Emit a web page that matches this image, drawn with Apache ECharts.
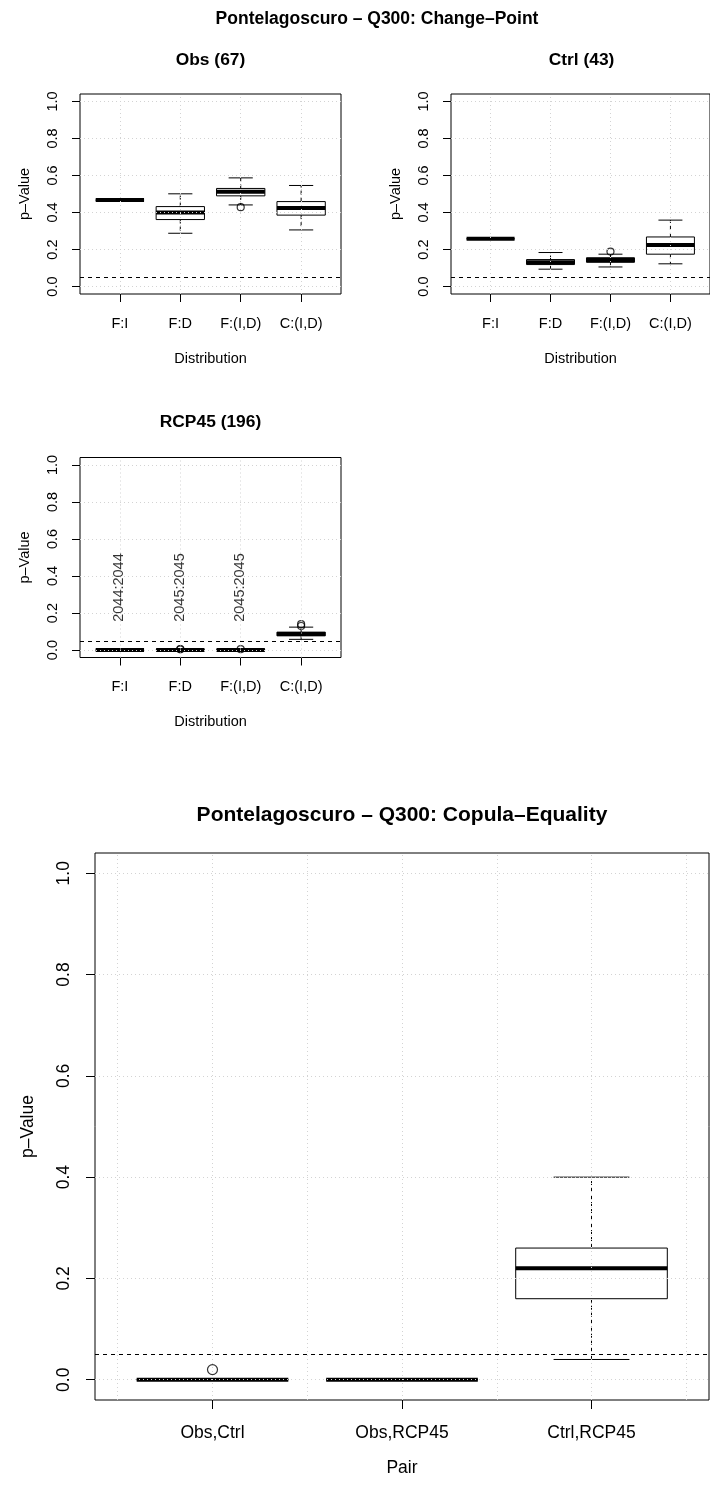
<!DOCTYPE html>
<html><head><meta charset="utf-8">
<script src="https://cdn.jsdelivr.net/npm/echarts@6/dist/echarts.min.js"></script>
<style>html,body{margin:0;padding:0;background:#fff}#c{width:710px;height:1485px}</style>
</head><body><div id="c"></div>
<script>
// ---------- data ----------
const distCats = ['F:I', 'F:D', 'F:(I,D)', 'C:(I,D)'];
const pairCats = ['Obs,Ctrl', 'Obs,RCP45', 'Ctrl,RCP45'];
const yTicks = [0, 0.2, 0.4, 0.6, 0.8, 1.0];
const alphaLevel = 0.05;
// each box: [lower whisker, Q1, median, Q3, upper whisker]
const obsBoxes = [
  [0.467, 0.467, 0.467, 0.467, 0.467],
  [0.288, 0.362, 0.400, 0.432, 0.501],
  [0.441, 0.490, 0.512, 0.530, 0.587],
  [0.306, 0.386, 0.425, 0.459, 0.546]
];
const obsOutliers = [[3, 0.429]];
const ctrlBoxes = [
  [0.258, 0.258, 0.258, 0.258, 0.258],
  [0.094, 0.119, 0.132, 0.146, 0.184],
  [0.106, 0.131, 0.144, 0.156, 0.175],
  [0.123, 0.175, 0.225, 0.268, 0.359]
];
const ctrlOutliers = [[3, 0.189]];
const rcpBoxes = [
  [0.000, 0.000, 0.000, 0.000, 0.000],
  [0.000, 0.000, 0.000, 0.002, 0.003],
  [0.000, 0.000, 0.000, 0.002, 0.003],
  [0.058, 0.077, 0.087, 0.097, 0.124]
];
const rcpOutliers = [[2, 0.004], [2, 0.006], [3, 0.005], [4, 0.130], [4, 0.140]];
const rcpChangeYears = [[1, '2044:2044'], [2, '2045:2045'], [3, '2045:2045']];
const rcpYearsY = 0.15;
const pairBoxes = [
  [0.000, 0.000, 0.000, 0.000, 0.000],
  [0.000, 0.000, 0.000, 0.000, 0.000],
  [0.040, 0.160, 0.220, 0.260, 0.400]
];
const pairOutliers = [[1, 0.02]];

// ---------- layout / style ----------
const FONT = "'Liberation Sans', Arial, Helvetica, sans-serif";
const panels = [
  { grid: { left: 80, top: 94, width: 261, height: 200 }, cats: distCats, boxes: obsBoxes, outliers: obsOutliers,
    xMin: 0.34, xMax: 4.66, xGrid: [1, 2, 3, 4], fs: 14.5, lblMargin: 22, nameGap: 57, yLblMargin: 20, yNameGap: 48, tick: 8, medW: 4, sym: 7, xName: 'Distribution' },
  { grid: { left: 451, top: 94, width: 261, height: 200 }, cats: distCats, boxes: ctrlBoxes, outliers: ctrlOutliers,
    xMin: 0.34, xMax: 4.66, xGrid: [1, 2, 3, 4], fs: 14.5, lblMargin: 22, nameGap: 57, yLblMargin: 20, yNameGap: 48, tick: 8, medW: 4, sym: 7, xName: 'Distribution' },
  { grid: { left: 80, top: 457.5, width: 261, height: 200 }, cats: distCats, boxes: rcpBoxes, outliers: rcpOutliers,
    xMin: 0.34, xMax: 4.66, xGrid: [1, 2, 3, 4], fs: 14.5, lblMargin: 22, nameGap: 57, yLblMargin: 20, yNameGap: 48, tick: 8, medW: 4, sym: 7, xName: 'Distribution' },
  { grid: { left: 95, top: 853, width: 614, height: 547 }, cats: pairCats, boxes: pairBoxes, outliers: pairOutliers,
    xMin: 0.38, xMax: 3.62, xGrid: [0.5, 1, 1.5, 2, 2.5, 3, 3.5], fs: 17.5, lblMargin: 24, nameGap: 59, yLblMargin: 22, yNameGap: 58, tick: 9, medW: 4, sym: 10, xName: 'Pair' }
];

function makeRender(medW) {
  return function (params, api) {
    const x = api.value(0);
    const p = [1, 2, 3, 4, 5].map(i => api.coord([x, api.value(i)]));
    const hw = api.size([0.8, 0])[0] / 2;
    const cap = hw / 2;
    const cx = p[0][0];
    const dash = { stroke: '#000', lineWidth: 1, lineDash: [4, 3] };
    const solid = { stroke: '#000', lineWidth: 1 };
    return {
      type: 'group',
      children: [
        { type: 'line', shape: { x1: cx, y1: p[3][1], x2: cx, y2: p[4][1] }, style: dash },
        { type: 'line', shape: { x1: cx, y1: p[1][1], x2: cx, y2: p[0][1] }, style: dash },
        { type: 'line', shape: { x1: cx - cap, y1: p[4][1], x2: cx + cap, y2: p[4][1] }, style: solid },
        { type: 'line', shape: { x1: cx - cap, y1: p[0][1], x2: cx + cap, y2: p[0][1] }, style: solid },
        { type: 'rect', shape: { x: cx - hw, y: p[3][1], width: 2 * hw, height: p[1][1] - p[3][1] },
          style: { fill: '#fff', stroke: '#000', lineWidth: 1 } },
        { type: 'line', shape: { x1: cx - hw, y1: p[2][1], x2: cx + hw, y2: p[2][1] }, style: { stroke: '#000', lineWidth: medW } }
      ]
    };
  };
}

const grid = [], xAxis = [], yAxis = [], series = [];
panels.forEach((pn, i) => {
  grid.push(Object.assign({ show: true, borderColor: '#000', borderWidth: 1, backgroundColor: 'transparent' }, pn.grid));
  const catVals = pn.cats.map((c, k) => k + 1);
  xAxis.push({
    type: 'value', gridIndex: i, min: pn.xMin, max: pn.xMax,
    axisLine: { show: false, onZero: false }, splitLine: { show: false },
    axisTick: { show: true, customValues: catVals, length: pn.tick, lineStyle: { color: '#000' } },
    axisLabel: { show: true, customValues: catVals, formatter: v => pn.cats[Math.round(v) - 1], color: '#000',
      fontSize: pn.fs, fontFamily: FONT, margin: pn.lblMargin },
    name: pn.xName, nameLocation: 'middle', nameGap: pn.nameGap,
    nameTextStyle: { color: '#000', fontSize: pn.fs, fontFamily: FONT }
  });
  yAxis.push({
    type: 'value', gridIndex: i, min: -0.04, max: 1.04,
    axisLine: { show: false, onZero: false }, splitLine: { show: false },
    axisTick: { show: true, customValues: yTicks, length: pn.tick, lineStyle: { color: '#000' } },
    axisLabel: { show: true, customValues: yTicks, formatter: v => v.toFixed(1), rotate: 90, color: '#000',
      fontSize: pn.fs, fontFamily: FONT, margin: pn.yLblMargin },
    name: 'p–Value', nameLocation: 'middle', nameGap: pn.yNameGap,
    nameTextStyle: { color: '#000', fontSize: pn.fs, fontFamily: FONT }
  });
  series.push({
    type: 'custom', xAxisIndex: i, yAxisIndex: i, z: 2,
    renderItem: makeRender(pn.medW),
    encode: { x: 0, y: [1, 2, 3, 4, 5] },
    data: pn.boxes.map((b, k) => [k + 1].concat(b))
  });
  series.push({
    type: 'scatter', xAxisIndex: i, yAxisIndex: i, z: 3,
    symbol: 'circle', symbolSize: pn.sym,
    itemStyle: { color: 'rgba(0,0,0,0)', borderColor: '#000', borderWidth: 1.2 },
    data: pn.outliers
  });
  series.push({
    type: 'line', xAxisIndex: i, yAxisIndex: i, z: 4, data: [], silent: true,
    markLine: {
      silent: true, symbol: ['none', 'none'], label: { show: false },
      lineStyle: { color: '#d3d3d3', type: [1, 3], width: 1 },
      data: yTicks.map(v => ({ yAxis: v })).concat(pn.xGrid.map(v => ({ xAxis: v })))
        .concat([{ yAxis: alphaLevel, lineStyle: { color: '#000', type: [4, 4], width: 1 } }])
    }
  });
});
// change-point years in RCP45 panel
series.push({
  type: 'scatter', xAxisIndex: 2, yAxisIndex: 2, z: 5, symbolSize: 1,
  itemStyle: { color: 'rgba(0,0,0,0)' },
  label: { show: true, formatter: p => p.data[2], rotate: 90, position: [0, 0], align: 'left', verticalAlign: 'middle',
    color: '#000', fontSize: 14.5, fontFamily: FONT },
  data: rcpChangeYears.map(d => [d[0], rcpYearsY, d[1]])
});

const txt = (t, x, y, fs) => ({ type: 'text', x: x, y: y, style: { text: t, align: 'center', verticalAlign: 'middle',
  fill: '#000', font: 'bold ' + fs + 'px ' + FONT } });

const chart = echarts.init(document.getElementById('c'), null, { renderer: 'canvas' });
chart.setOption({
  animation: false,
  backgroundColor: '#fff',
  grid, xAxis, yAxis, series,
  graphic: [
    txt('Pontelagoscuro – Q300: Change–Point', 377, 19, 17.5),
    txt('Obs (67)', 210.5, 60, 17.4),
    txt('Ctrl (43)', 581.5, 60, 17.4),
    txt('RCP45 (196)', 210.5, 422, 17.4),
    txt('Pontelagoscuro – Q300: Copula–Equality', 402, 815, 21)
  ]
});
</script></body></html>
